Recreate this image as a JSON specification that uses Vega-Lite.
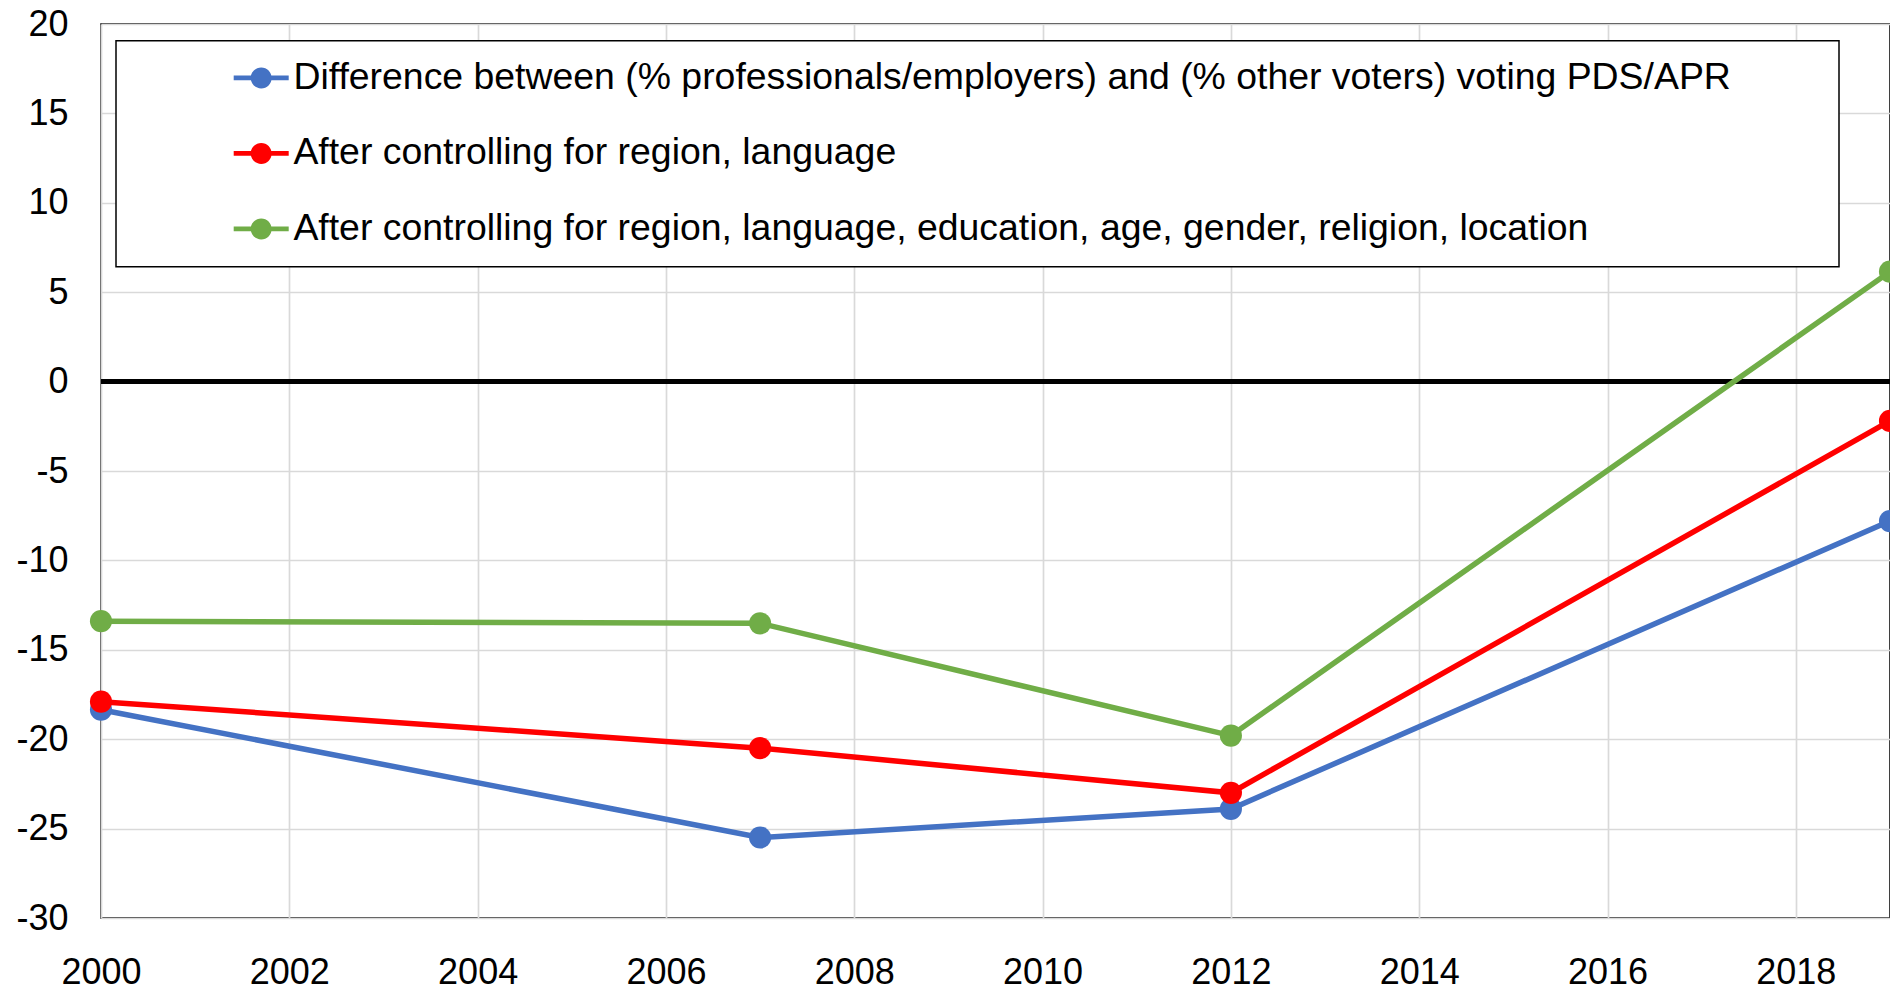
{
  "$schema": "https://vega.github.io/schema/vega-lite/v6.json",
  "width": 1789,
  "height": 894,
  "autosize": {"type": "none"},
  "padding": {"left": 101, "top": 24, "right": 0, "bottom": 74},
  "background": "white",
  "config": {
    "font": "Liberation Sans",
    "view": {"stroke": "black", "strokeWidth": 1.5},
    "axis": {
      "labelFont": "Liberation Sans",
      "labelFontSize": 36,
      "labelColor": "black",
      "grid": true,
      "gridColor": "#d9d9d9",
      "gridWidth": 1.7,
      "domain": false,
      "ticks": false,
      "labelOverlap": false,
      "labelBound": false
    }
  },
  "data": {
    "values": [
      {"year": 2000, "value": -18.35, "series": "Difference between (% professionals/employers) and (% other voters) voting PDS/APR"},
      {"year": 2007, "value": -25.5, "series": "Difference between (% professionals/employers) and (% other voters) voting PDS/APR"},
      {"year": 2012, "value": -23.9, "series": "Difference between (% professionals/employers) and (% other voters) voting PDS/APR"},
      {"year": 2019, "value": -7.8, "series": "Difference between (% professionals/employers) and (% other voters) voting PDS/APR"},
      {"year": 2000, "value": -17.9, "series": "After controlling for region, language"},
      {"year": 2007, "value": -20.5, "series": "After controlling for region, language"},
      {"year": 2012, "value": -23.0, "series": "After controlling for region, language"},
      {"year": 2019, "value": -2.2, "series": "After controlling for region, language"},
      {"year": 2000, "value": -13.4, "series": "After controlling for region, language, education, age, gender, religion, location"},
      {"year": 2007, "value": -13.52, "series": "After controlling for region, language, education, age, gender, religion, location"},
      {"year": 2012, "value": -19.8, "series": "After controlling for region, language, education, age, gender, religion, location"},
      {"year": 2019, "value": 6.15, "series": "After controlling for region, language, education, age, gender, religion, location"}
    ]
  },
  "layer": [
    {
      "mark": {"type": "rule", "color": "black", "strokeWidth": 5},
      "encoding": {
        "y": {"datum": 0, "type": "quantitative", "scale": {"domain": [-30, 20], "nice": false, "zero": false}, "axis": {"values": [-30, -25, -20, -15, -10, -5, 0, 5, 10, 15, 20], "title": null, "labelPadding": 33, "labelExpr": "'' + datum.value"}}
      }
    },
    {
      "mark": {"type": "line", "strokeWidth": 5.5},
      "encoding": {
        "x": {"field": "year", "type": "quantitative", "scale": {"domain": [2000, 2019], "nice": false, "zero": false}, "axis": {"values": [2000, 2002, 2004, 2006, 2008, 2010, 2012, 2014, 2016, 2018], "format": "d", "title": null, "labelPadding": 37.5, "labelFlush": false}},
        "y": {"field": "value", "type": "quantitative", "scale": {"domain": [-30, 20], "nice": false, "zero": false}, "axis": {"values": [-30, -25, -20, -15, -10, -5, 0, 5, 10, 15, 20], "title": null, "labelPadding": 33, "labelExpr": "'' + datum.value"}},
        "color": {
          "field": "series",
          "type": "nominal",
          "scale": {
            "domain": [
              "Difference between (% professionals/employers) and (% other voters) voting PDS/APR",
              "After controlling for region, language",
              "After controlling for region, language, education, age, gender, religion, location"
            ],
            "range": ["#4472C4", "#FF0000", "#70AD47"]
          },
          "legend": {
            "orient": "none",
            "legendX": 15,
            "legendY": 16.7,
            "title": "\u00a0",
            "titleOrient": "right",
            "titlePadding": 90,
            "titleFontSize": 33,
            "padding": 18.5,
            "strokeColor": "black",
            "fillColor": "white",
            "symbolType": "M-2.619,-0.22H2.619V0.22H-2.619Z M-1,0A1,1 0 1,1 1,0A1,1 0 1,1 -1,0Z",
            "symbolSize": 441,
            "symbolOffset": 108,
            "symbolStrokeWidth": 0,
            "labelOffset": 13.5,
            "labelFont": "Liberation Sans",
            "labelFontSize": 37.4,
            "labelColor": "black",
            "labelLimit": 2000,
            "rowPadding": 36.5,
            "encode": {
              "legend": {"update": {"strokeWidth": {"value": 1.5}}},
              "symbols": {"update": {"fill": {"scale": "color", "field": "value"}, "stroke": {"value": "transparent"}, "opacity": {"value": 1}}}
            }
          }
        }
      }
    },
    {
      "mark": {"type": "point", "filled": true, "size": 490, "opacity": 1},
      "encoding": {
        "x": {"field": "year", "type": "quantitative"},
        "y": {"field": "value", "type": "quantitative"},
        "color": {"field": "series", "type": "nominal", "legend": null}
      }
    }
  ]
}
